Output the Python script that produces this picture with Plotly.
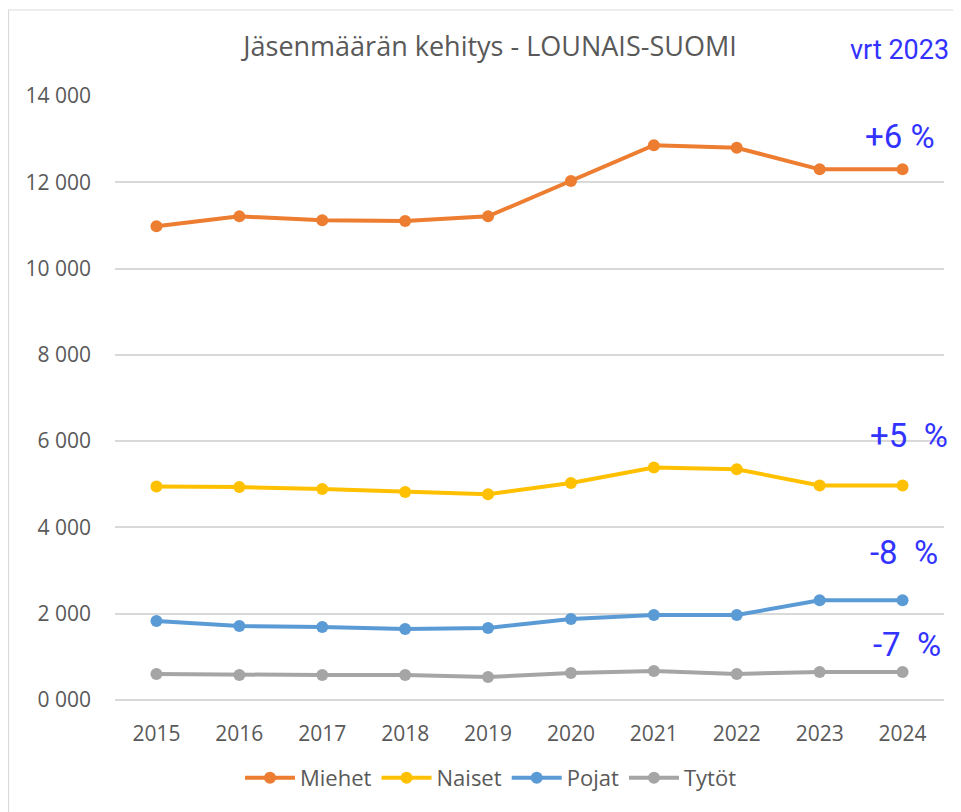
import plotly.graph_objects as go

years = ["2015", "2016", "2017", "2018", "2019", "2020", "2021", "2022", "2023", "2024"]
miehet = [10980, 11210, 11120, 11100, 11210, 12030, 12860, 12800, 12300, 12300]
naiset = [4950, 4935, 4890, 4820, 4770, 5030, 5390, 5350, 4970, 4970]
pojat = [1830, 1715, 1690, 1645, 1670, 1875, 1970, 1970, 2310, 2310]
tytot = [600, 580, 580, 580, 535, 625, 670, 605, 650, 650]

series_names = ["Miehet", "Naiset", "Pojat", "Tytöt"]
series_colors = ["#ED7D31", "#FFC000", "#5B9BD5", "#A5A5A5"]

y_tickvals = [0, 2000, 4000, 6000, 8000, 10000, 12000, 14000]
y_ticktext = ["0 000", "2 000", "4 000", "6 000", "8 000", "10 000", "12 000", "14 000"]

change_labels = ["+6 %", "+5  %", "-8  %", "-7  %"]
change_y = [13070, 6140, 3430, 1275]
change_dx = [-3, 6, 1, 4]

compare_label = "vrt 2023"

# page has an 8px body margin, so figure coords = screenshot coords - 8
W, H = 953, 804
ML, MR, MT, MB = 107, 17, 88, 112
pw = W - ML - MR
ph = H - MT - MB

fig = go.Figure()
for name, vals, col in zip(series_names, [miehet, naiset, pojat, tytot], series_colors):
    fig.add_trace(go.Scatter(
        x=years, y=vals, name=name, mode="lines+markers",
        line=dict(color=col, width=4),
        marker=dict(color=col, size=12),
        cliponaxis=False,
    ))

blue = "#3333FF"
ann_font = "Roboto"
last_idx = len(years) - 1
for lab, yv, dx in zip(change_labels, change_y, change_dx):
    fig.add_annotation(x=last_idx, y=yv, text=lab, showarrow=False,
                       xanchor="center", yanchor="middle", xshift=dx,
                       font=dict(family=ann_font, size=33, color=blue))

fig.add_annotation(x=last_idx, xref="x", yref="paper", y=1 + (MT - 42) / ph,
                   text=compare_label, showarrow=False,
                   xanchor="center", yanchor="middle", xshift=-3,
                   font=dict(family=ann_font, size=27, color=blue))

fig.add_shape(type="rect", xref="paper", yref="paper",
              x0=(0.5 - ML) / pw, x1=(W + 20 - ML) / pw,
              y0=-(H + 20 - (H - MB)) / ph, y1=((H - MB) - 2) / ph,
              line=dict(color="#D9D9D9", width=1.2), layer="below")

fig.update_layout(
    width=W, height=H,
    margin=dict(l=ML, r=MR, t=MT, b=MB, autoexpand=False),
    paper_bgcolor="white", plot_bgcolor="white",
    title=dict(text="Jäsenmäärän kehitys - LOUNAIS-SUOMI",
               xref="container", yref="container",
               x=482 / W, xanchor="center", y=1 - 39 / H, yanchor="middle",
               font=dict(family="Open Sans, Liberation Sans", size=27, color="#595959")),
    font=dict(family="Open Sans, Liberation Sans", color="#595959"),
    showlegend=True,
    legend=dict(orientation="h", xref="container", yref="container",
                x=483 / W, xanchor="center", y=1 - 770 / H, yanchor="middle",
                font=dict(size=22, color="#595959"), tracegroupgap=0,
                itemwidth=50),
    xaxis=dict(type="category", range=[-0.5, 9.5], showgrid=False, showline=False,
               ticks="", tickfont=dict(size=21, color="#595959"), ticklabelstandoff=19),
    yaxis=dict(range=[0, 14000], tickvals=y_tickvals, ticktext=y_ticktext,
               showgrid=True, gridcolor="#D9D9D9", gridwidth=1.5, zeroline=True,
               zerolinecolor="#D9D9D9", zerolinewidth=1.5, showline=False,
               tickfont=dict(size=21, color="#595959"), ticklabelstandoff=23),
)

fig.write_html("out.html")
